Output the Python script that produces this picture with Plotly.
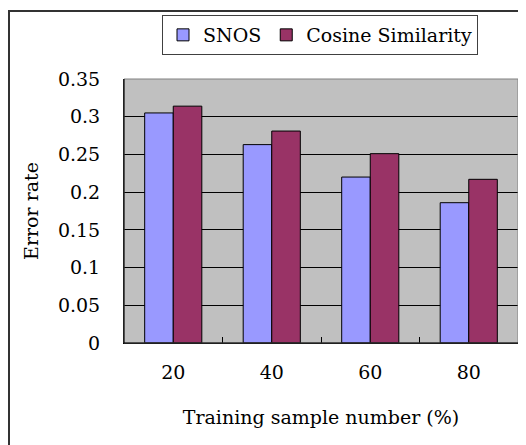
import plotly.graph_objects as go

categories = ["20", "40", "60", "80"]
snos = [0.305, 0.263, 0.220, 0.186]
cosine = [0.314, 0.281, 0.251, 0.217]
y_ticks = [0, 0.05, 0.1, 0.15, 0.2, 0.25, 0.3, 0.35]
y_labels = ["0", "0.05", "0.1", "0.15", "0.2", "0.25", "0.3", "0.35"]

FONT = "DejaVu Serif"
FS = 19
OFF = 8  # browser body margin
W, H = 526 - OFF, 445 - OFF
L, R, T, B = 124 - OFF, 8, 79 - OFF, 102
pw, ph = W - L - R, H - T - B

def px(x):  # screen x -> paper
    return (x - OFF - L) / pw

def py(y):  # screen y -> paper
    return (H - B - (y - OFF)) / ph

fig = go.Figure()
fig.add_trace(go.Bar(x=categories, y=snos, name="SNOS",
                     marker=dict(color="#9999FF", line=dict(color="black", width=1))))
fig.add_trace(go.Bar(x=categories, y=cosine, name="Cosine Similarity",
                     marker=dict(color="#993366", line=dict(color="black", width=1))))

fig.update_layout(
    width=W, height=H,
    margin=dict(l=L, r=R, t=T, b=B, pad=0, autoexpand=False),
    paper_bgcolor="white", plot_bgcolor="#C0C0C0",
    font=dict(family=FONT, size=FS, color="black"),
    barmode="group", bargap=0.42, bargroupgap=0,
    showlegend=True,
    legend=dict(orientation="h", x=px(162), y=py(15), xanchor="left", yanchor="top",
                bgcolor="white", bordercolor="#404040", borderwidth=1,
                font=dict(family=FONT, size=FS), itemwidth=30, tracegroupgap=0),
    xaxis=dict(type="category", showgrid=False, ticks="inside", tickson="boundaries",
               ticklen=6, tickcolor="black", showline=True, linecolor="black", linewidth=1,
               ticklabelstandoff=12, automargin=False,
               title=dict(text="Training sample number (%)", standoff=28,
                          font=dict(family=FONT, size=FS))),
    yaxis=dict(range=[0, 0.35], tickvals=y_ticks, ticktext=y_labels,
               showgrid=True, gridcolor="black", gridwidth=1,
               ticks="", showline=True, linecolor="black", linewidth=1,
               ticklabelstandoff=19, zeroline=False, automargin=False,
               title=dict(text="Error rate", standoff=14,
                          font=dict(family=FONT, size=FS))),
    shapes=[
        dict(type="rect", xref="paper", yref="paper", x0=0, x1=1, y0=0, y1=1,
             line=dict(color="#808080", width=1), layer="above"),
        dict(type="line", xref="paper", yref="paper", x0=0, x1=0, y0=0, y1=1,
             line=dict(color="black", width=1), layer="above"),
        dict(type="line", xref="paper", yref="paper", x0=0, x1=1, y0=0, y1=0,
             line=dict(color="black", width=1), layer="above"),
        dict(type="rect", xref="paper", yref="paper", x0=px(9), x1=px(560), y0=py(11), y1=py(460),
             line=dict(color="#333333", width=2), fillcolor="rgba(0,0,0,0)", layer="above"),
    ],
)

fig.write_html("out.html")
